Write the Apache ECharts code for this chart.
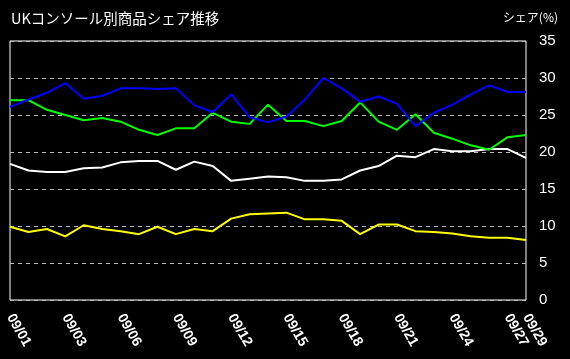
<!DOCTYPE html>
<html><head><meta charset="utf-8">
<script src="https://cdn.jsdelivr.net/npm/echarts@6/dist/echarts.min.js"></script>
<style>html,body{margin:0;padding:0;background:#000}#c{width:570px;height:359px}</style>
</head><body><div id="c"></div>
<script>
const dateLabels = ["09/01","","","09/03","","","09/06","","","09/09","","","09/12","","","09/15","","","09/18","","","09/21","","","09/24","","","09/27","09/29"];
const blue   = [26.1,27.1,28.0,29.3,27.2,27.6,28.6,28.6,28.5,28.6,26.3,25.4,27.8,24.7,24.0,24.8,27.1,30.0,28.6,26.8,27.5,26.5,23.5,25.3,26.4,27.8,29.0,28.1,28.1];
const green  = [27.0,27.0,25.7,25.0,24.3,24.6,24.1,23.0,22.3,23.2,23.2,25.3,24.1,23.8,26.4,24.2,24.2,23.5,24.2,26.7,24.1,23.0,25.1,22.6,21.8,20.9,20.3,22.0,22.3];
const white  = [18.4,17.5,17.3,17.3,17.8,17.9,18.6,18.8,18.8,17.6,18.7,18.1,16.1,16.4,16.7,16.6,16.1,16.1,16.3,17.5,18.1,19.5,19.3,20.4,20.1,20.1,20.4,20.4,19.2];
const yellow = [9.9,9.2,9.6,8.6,10.1,9.6,9.3,8.9,9.9,8.9,9.6,9.3,11.0,11.6,11.7,11.8,10.9,10.9,10.7,8.9,10.2,10.2,9.3,9.2,9.0,8.6,8.4,8.4,8.1];
const yTicks = {min:0, max:35, interval:5};

const chart = echarts.init(document.getElementById('c'));
function line(data, color){
  return {type:'line', data, symbol:'none', smooth:false, lineStyle:{color, width:2}, itemStyle:{color}};
}
chart.setOption({
  backgroundColor:'#000',
  animation:false,
  title:[
    {text:'UKコンソール別商品シェア推移', left:6, top:6, textStyle:{color:'#fff', fontSize:14.5, fontWeight:'normal', fontFamily:'Noto Sans CJK JP'}},
    {text:'シェア(%)', right:7, top:6, textStyle:{color:'#fff', fontSize:12, fontWeight:'normal', fontFamily:'Noto Sans CJK JP'}}
  ],
  grid:{left:10, right:44, top:41, bottom:59, show:true, borderColor:'#fff', borderWidth:1, backgroundColor:'transparent'},
  xAxis:{type:'category', boundaryGap:false, data:dateLabels.map((d,i)=>String(i)),
    axisLine:{show:false}, axisTick:{show:false}, splitLine:{show:false},
    axisLabel:{interval:0, rotate:-60, margin:15, color:'#fff', fontSize:14, fontWeight:'bold', fontFamily:'Liberation Sans',
      formatter:(v,i)=>dateLabels[i]}},
  yAxis:{type:'value', position:'right', min:yTicks.min, max:yTicks.max, interval:yTicks.interval,
    axisLine:{show:false}, axisTick:{show:false},
    axisLabel:{color:'#fff', fontSize:15, margin:13, fontFamily:'Liberation Sans'},
    splitLine:{show:true, lineStyle:{color:'#bbb', type:[4,4], width:1}}},
  series:[line(yellow,'#ffff00'), line(white,'#ffffff'), line(green,'#00ff00'), line(blue,'#0000ff')]
});
</script></body></html>
